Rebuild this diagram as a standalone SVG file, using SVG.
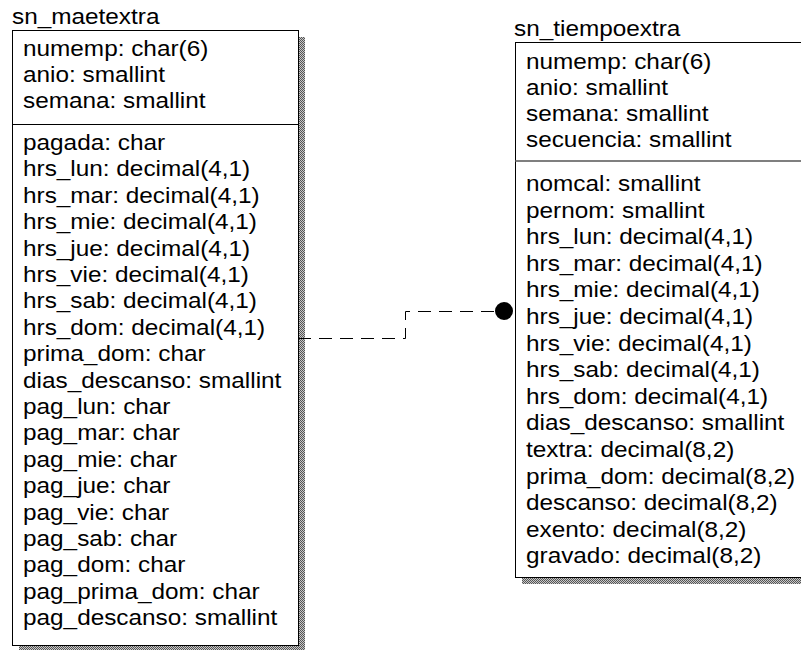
<svg xmlns="http://www.w3.org/2000/svg" width="801" height="650" viewBox="0 0 801 650">
<defs>
<pattern id="shade" width="2" height="2" patternUnits="userSpaceOnUse">
<rect width="2" height="2" fill="#c8c8c8"/>
<rect width="1" height="1" fill="#555"/>
<rect x="1" y="1" width="1" height="1" fill="#555"/>
</pattern>
</defs>
<style>
.box{fill:#fff;stroke:#000;stroke-width:1}
.div{stroke:#000;stroke-width:1}
.div2{stroke:#555;stroke-width:1.5}
.t{font-family:"Liberation Sans",Arial,sans-serif;font-size:22px;fill:#000}
.conn{fill:none;stroke:#000;stroke-width:1;stroke-dasharray:13 8}
</style>
<rect width="801" height="650" fill="#fff"/>
<g id="sn_maetextra">
<rect x="19" y="37" width="286" height="615" fill="url(#shade)"/>
<rect class="box" x="12.5" y="30.5" width="286" height="615"/>
<line class="div" x1="12" y1="124.5" x2="298" y2="124.5"/>
<g transform="translate(12,0) scale(1.107,1)"><text class="t" x="0" y="24">sn_maetextra</text></g>
<g transform="translate(23,0) scale(1.107,1)">
<text class="t" x="0" y="56">numemp: char(6)</text>
<text class="t" x="0" y="82">anio: smallint</text>
<text class="t" x="0" y="108">semana: smallint</text>
<text class="t" x="0" y="150">pagada: char</text>
<text class="t" x="0" y="176.4">hrs_lun: decimal(4,1)</text>
<text class="t" x="0" y="202.8">hrs_mar: decimal(4,1)</text>
<text class="t" x="0" y="229.2">hrs_mie: decimal(4,1)</text>
<text class="t" x="0" y="255.6">hrs_jue: decimal(4,1)</text>
<text class="t" x="0" y="282">hrs_vie: decimal(4,1)</text>
<text class="t" x="0" y="308.4">hrs_sab: decimal(4,1)</text>
<text class="t" x="0" y="334.8">hrs_dom: decimal(4,1)</text>
<text class="t" x="0" y="361.2">prima_dom: char</text>
<text class="t" x="0" y="387.6">dias_descanso: smallint</text>
<text class="t" x="0" y="414">pag_lun: char</text>
<text class="t" x="0" y="440.4">pag_mar: char</text>
<text class="t" x="0" y="466.8">pag_mie: char</text>
<text class="t" x="0" y="493.2">pag_jue: char</text>
<text class="t" x="0" y="519.6">pag_vie: char</text>
<text class="t" x="0" y="546">pag_sab: char</text>
<text class="t" x="0" y="572.4">pag_dom: char</text>
<text class="t" x="0" y="598.8">pag_prima_dom: char</text>
<text class="t" x="0" y="625.2">pag_descanso: smallint</text>
</g>
</g>
<g id="sn_tiempoextra">
<rect x="522" y="49" width="290" height="535" fill="url(#shade)"/>
<rect class="box" x="515.5" y="42.5" width="300" height="535"/>
<line class="div2" x1="515" y1="161" x2="801" y2="161"/>
<g transform="translate(514,0) scale(1.107,1)"><text class="t" x="0" y="36">sn_tiempoextra</text></g>
<g transform="translate(526,0) scale(1.107,1)">
<text class="t" x="0" y="69">numemp: char(6)</text>
<text class="t" x="0" y="95">anio: smallint</text>
<text class="t" x="0" y="121">semana: smallint</text>
<text class="t" x="0" y="147">secuencia: smallint</text>
<text class="t" x="0" y="191">nomcal: smallint</text>
<text class="t" x="0" y="217.6">pernom: smallint</text>
<text class="t" x="0" y="244.2">hrs_lun: decimal(4,1)</text>
<text class="t" x="0" y="270.8">hrs_mar: decimal(4,1)</text>
<text class="t" x="0" y="297.4">hrs_mie: decimal(4,1)</text>
<text class="t" x="0" y="324">hrs_jue: decimal(4,1)</text>
<text class="t" x="0" y="350.6">hrs_vie: decimal(4,1)</text>
<text class="t" x="0" y="377.2">hrs_sab: decimal(4,1)</text>
<text class="t" x="0" y="403.8">hrs_dom: decimal(4,1)</text>
<text class="t" x="0" y="430.4">dias_descanso: smallint</text>
<text class="t" x="0" y="457">textra: decimal(8,2)</text>
<text class="t" x="0" y="483.6">prima_dom: decimal(8,2)</text>
<text class="t" x="0" y="510.2">descanso: decimal(8,2)</text>
<text class="t" x="0" y="536.8">exento: decimal(8,2)</text>
<text class="t" x="0" y="563.4">gravado: decimal(8,2)</text>
</g>
</g>
<g id="connectors">
<path class="conn" d="M298,338.5 H405.5 V311.5 H496"/>
<circle cx="504" cy="311" r="9" fill="#000"/>
</g>
</svg>
